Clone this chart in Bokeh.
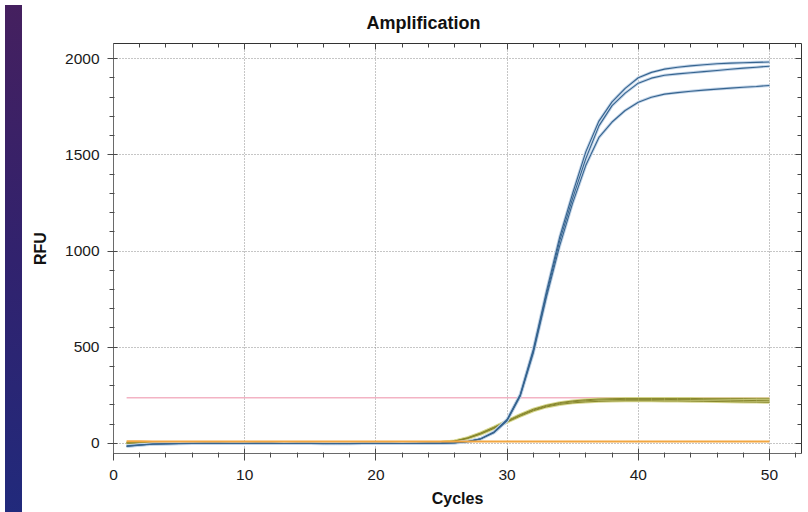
from bokeh.plotting import figure
from bokeh.models import Range1d, LinearAxis, SingleIntervalTicker, Div
from bokeh.layouts import row
from bokeh.embed import file_html
from bokeh.resources import INLINE

# ---------------- data ----------------
cycles = list(range(1, 51))

blue_a = [-14, -8, -3, -1, 0, 1, 1, 0, 0, 1, 1, 0, 0, 1, 0, -1, 0, 0, 1, 0, 0, 0, 1, 1, 2,
          4, 10, 25, 60, 125, 255, 490, 790, 1070, 1300, 1515, 1675, 1775, 1845, 1900,
          1928, 1945, 1955, 1962, 1968, 1973, 1976, 1978, 1980, 1982]
blue_b = [-12, -7, -3, -1, 0, 0, 1, 1, 0, 0, 1, 1, 0, 0, 0, 0, -1, 0, 0, 1, 0, 0, 0, 1, 2,
          4, 10, 25, 58, 122, 250, 480, 775, 1050, 1275, 1480, 1650, 1755, 1820, 1872,
          1898, 1913, 1920, 1926, 1932, 1938, 1944, 1950, 1955, 1960]
blue_c = [-16, -9, -4, -2, -1, 0, 0, 1, 1, 0, 0, 1, 0, 0, 1, 0, 0, -1, 0, 0, 1, 0, 0, 1, 1,
          3, 9, 24, 56, 118, 245, 470, 760, 1025, 1250, 1445, 1590, 1670, 1730, 1773,
          1799, 1815, 1823, 1830, 1836, 1841, 1846, 1851, 1855, 1860]

olive_a = [4, 3, 2, 2, 1, 2, 2, 1, 1, 2, 2, 1, 1, 1, 2, 1, 1, 1, 2, 1, 1, 2, 2, 3, 6,
           13, 30, 55, 85, 118, 150, 178, 198, 212, 221, 227, 231, 233, 234, 234,
           234, 234, 234, 234, 233, 233, 233, 233, 232, 232]
olive_b = [3, 2, 2, 1, 1, 1, 2, 2, 1, 1, 1, 2, 1, 0, 1, 1, 0, 1, 1, 1, 0, 1, 2, 3, 5,
           12, 28, 52, 82, 115, 146, 174, 194, 208, 217, 222, 226, 228, 229, 229,
           229, 229, 228, 228, 227, 226, 225, 224, 223, 222]
olive_c = [2, 2, 1, 1, 0, 1, 1, 1, 0, 1, 1, 1, 0, 0, 1, 0, 0, 0, 1, 0, 0, 1, 1, 2, 4,
           11, 26, 49, 78, 111, 142, 170, 190, 203, 211, 216, 219, 221, 222, 222,
           222, 221, 221, 220, 219, 218, 217, 216, 215, 214]

orange = [11, 11, 10, 10, 10, 10, 10, 10, 10, 10, 10, 10, 10, 10, 10, 10, 10, 10, 10, 10,
          10, 10, 10, 10, 10, 10, 10, 10, 10, 10, 10, 10, 10, 10, 10, 10, 10, 10, 10, 10,
          10, 10, 10, 10, 10, 10, 10, 10, 10, 10]

threshold = 238

title_text = "Amplification"
x_label = "Cycles"
y_label = "RFU"

# ---------------- figure ----------------
FONT = "Liberation Sans"

p = figure(width=775, height=510, output_backend="svg", toolbar_location=None,
           x_range=Range1d(0, 52.44), y_range=Range1d(-52, 2078),
           min_border_left=86, min_border_right=1, min_border_top=43, min_border_bottom=57)
p.title.text = title_text
p.title.align = "left"
p.title.offset = 253
p.title.standoff = 21
p.title.text_font = FONT
p.title.text_font_size = "18px"
p.title.text_font_style = "bold"
p.title.text_color = "#111111"
p.outline_line_color = None
p.background_fill_color = "white"
p.border_fill_color = "white"

xt = SingleIntervalTicker(interval=10, num_minor_ticks=5)
yt = SingleIntervalTicker(interval=500, num_minor_ticks=5)

for ax, t in ((p.xaxis[0], xt), (p.yaxis[0], yt)):
    ax.ticker = t
    ax.axis_line_color = "#6a6a6a"
    ax.major_tick_line_color = "#4a4a4a"
    ax.minor_tick_line_color = "#4a4a4a"
    ax.major_label_text_font = FONT
    ax.major_label_text_font_size = "15.5px"
    ax.major_label_text_color = "#1a1a1a"
    ax.axis_label_text_font = FONT
    ax.axis_label_text_font_style = "bold"
    ax.axis_label_text_font_size = "16px"
    ax.axis_label_text_color = "#111111"

p.xaxis.axis_label = x_label
p.xaxis.major_tick_in = 5
p.xaxis.major_tick_out = 7
p.xaxis.minor_tick_in = 1
p.xaxis.minor_tick_out = 4
p.xaxis.major_label_standoff = 9
p.xaxis.axis_label_standoff = 7

p.yaxis.axis_label = y_label
p.yaxis.major_tick_in = 4
p.yaxis.major_tick_out = 6
p.yaxis.minor_tick_in = 1
p.yaxis.minor_tick_out = 4
p.yaxis.major_label_standoff = 8
p.yaxis.axis_label_standoff = 13

# inner-tick axes on top and right
for side, t in (("above", xt), ("right", yt)):
    ax = LinearAxis(ticker=t)
    ax.axis_line_color = "#333333"
    ax.major_tick_line_color = "#444444"
    ax.minor_tick_line_color = "#444444"
    ax.major_tick_in = 6
    ax.major_tick_out = 0
    ax.minor_tick_in = 4
    ax.minor_tick_out = 0
    ax.major_label_text_font_size = "0px"
    ax.major_label_standoff = 0
    ax.major_label_text_color = None
    p.add_layout(ax, side)

p.xgrid.ticker = xt
p.ygrid.ticker = yt
for g in (p.xgrid[0], p.ygrid[0]):
    g.grid_line_color = "#8c8c8c"
    g.grid_line_dash = "1 2"
    g.grid_line_width = 1

# threshold
p.line([cycles[0], cycles[-1]], [threshold, threshold], line_color="#f3b3c4", line_width=1.6)

# olive curves
for ys in (olive_a, olive_b, olive_c):
    p.line(cycles, ys, line_color="#d8d890", line_width=3.0)
for ys in (olive_a, olive_b, olive_c):
    p.line(cycles, ys, line_color="#86862c", line_width=1.0)

# blue curves
for ys in (blue_a, blue_b, blue_c):
    p.line(cycles, ys, line_color="#c2d4e8", line_width=3.0)
for ys in (blue_a, blue_b, blue_c):
    p.line(cycles, ys, line_color="#36648f", line_width=1.1)

# orange flat curve
p.line(cycles, orange, line_color="#f2a640", line_width=2)

strip = Div(text="", width=17, height=510,
            styles={"background": "linear-gradient(180deg, #45205f 0%, #31226e 50%, #212a7c 100%)"})

layout = row(strip, p)

open("out.html", "w").write(file_html(layout, INLINE))
